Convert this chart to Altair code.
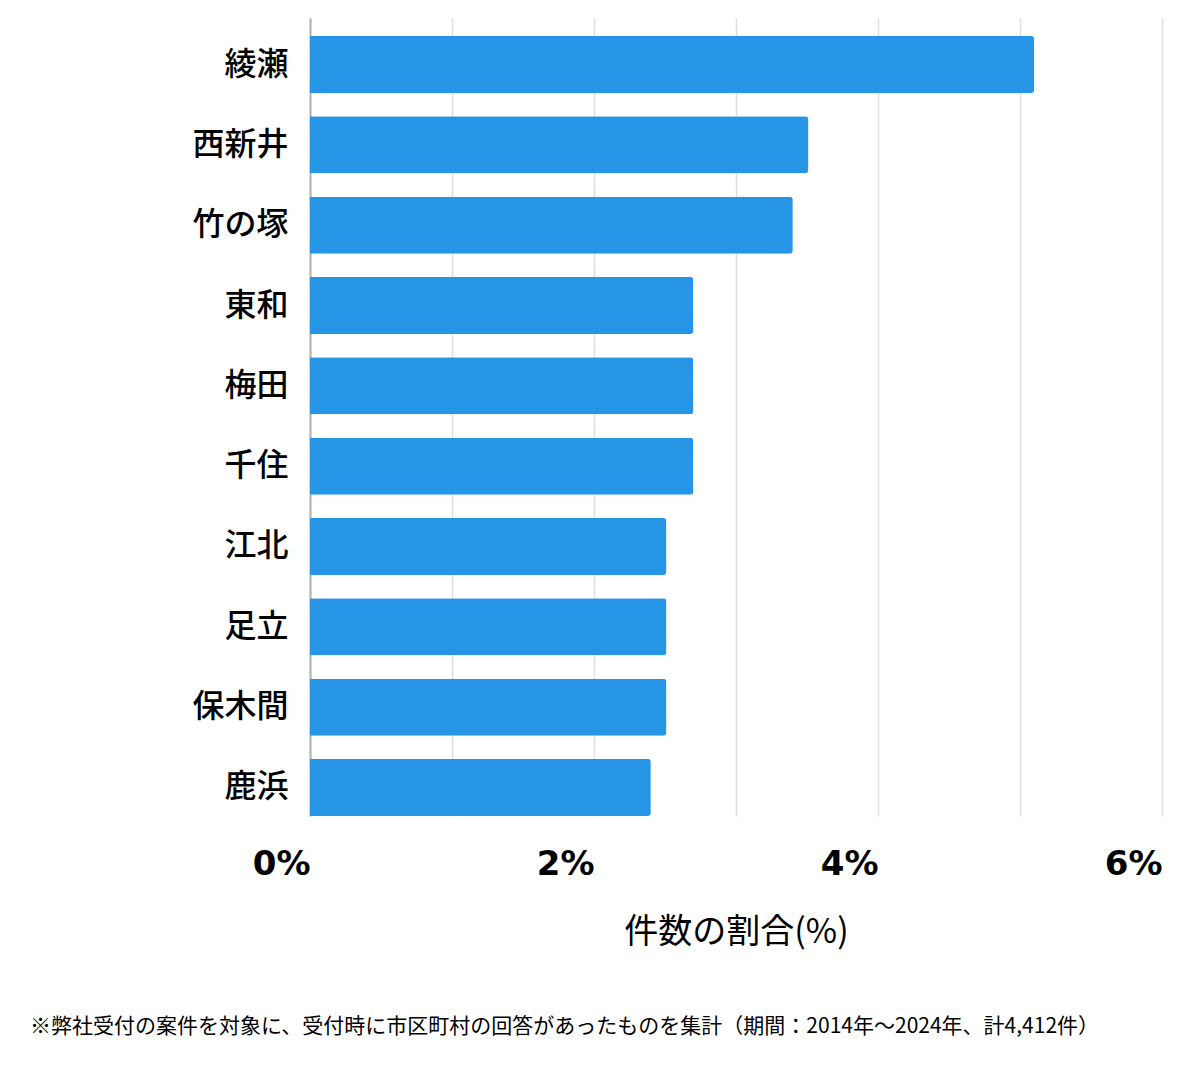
import altair as alt
import pandas as pd

areas = ["綾瀬", "西新井", "竹の塚", "東和", "梅田", "千住", "江北", "足立", "保木間", "鹿浜"]
shares = [5.10, 3.51, 3.40, 2.70, 2.70, 2.70, 2.51, 2.51, 2.51, 2.40]
x_ticks = [0, 1, 2, 3, 4, 5, 6]
x_title = "件数の割合(%)"
footnote = "※弊社受付の案件を対象に、受付時に市区町村の回答があったものを集計（期間：2014年～2024年、計4,412件）"

df = pd.DataFrame({"area": areas, "share": shares})

bars = alt.Chart(df).mark_bar(color="#2695E5", cornerRadiusEnd=3).encode(
    x=alt.X(
        "share:Q",
        scale=alt.Scale(domain=[0, 6], nice=False),
        axis=alt.Axis(
            values=x_ticks,
            labelExpr="datum.value % 2 == 0 ? datum.value + '%' : ''",
            labelAlign="right",
            labelFont="DejaVu Sans",
            labelFontWeight="bold",
            labelFontSize=34,
            labelColor="#000000",
            labelPadding=31,
            domain=False,
            ticks=False,
            grid=True,
            gridColor="#dddddd",
            gridWidth=1.5,
            title=x_title,
            titleFont="Noto Sans CJK JP",
            titleFontSize=34,
            titleFontWeight="normal",
            titleColor="#000000",
            titlePadding=34,
        ),
    ),
    y=alt.Y(
        "area:N",
        sort=areas,
        scale=alt.Scale(paddingInner=0.29, paddingOuter=0.112, align=1),
        axis=alt.Axis(
            title=None,
            ticks=False,
            domain=True,
            domainColor="#b0b0b0",
            domainWidth=2,
            labelFont="Noto Sans CJK JP",
            labelFontSize=32,
            labelFontWeight=500,
            labelColor="#000000",
            labelPadding=22,
            grid=False,
        ),
    ),
)

note = alt.Chart(pd.DataFrame({"t": [footnote]})).mark_text(
    align="left", baseline="middle", fontSize=21, font="Noto Sans CJK JP", color="#000000"
).encode(x=alt.value(-280), y=alt.value(1009), text="t:N")

chart = alt.layer(bars, note).properties(
    width=852,
    height=798,
    padding={"left": 310, "top": 18, "right": 38, "bottom": 253},
    autosize=alt.AutoSizeParams(type="none"),
    background="white",
).configure_view(stroke=None)

chart.save("out.html", embed_options={"renderer": "svg", "actions": False})
